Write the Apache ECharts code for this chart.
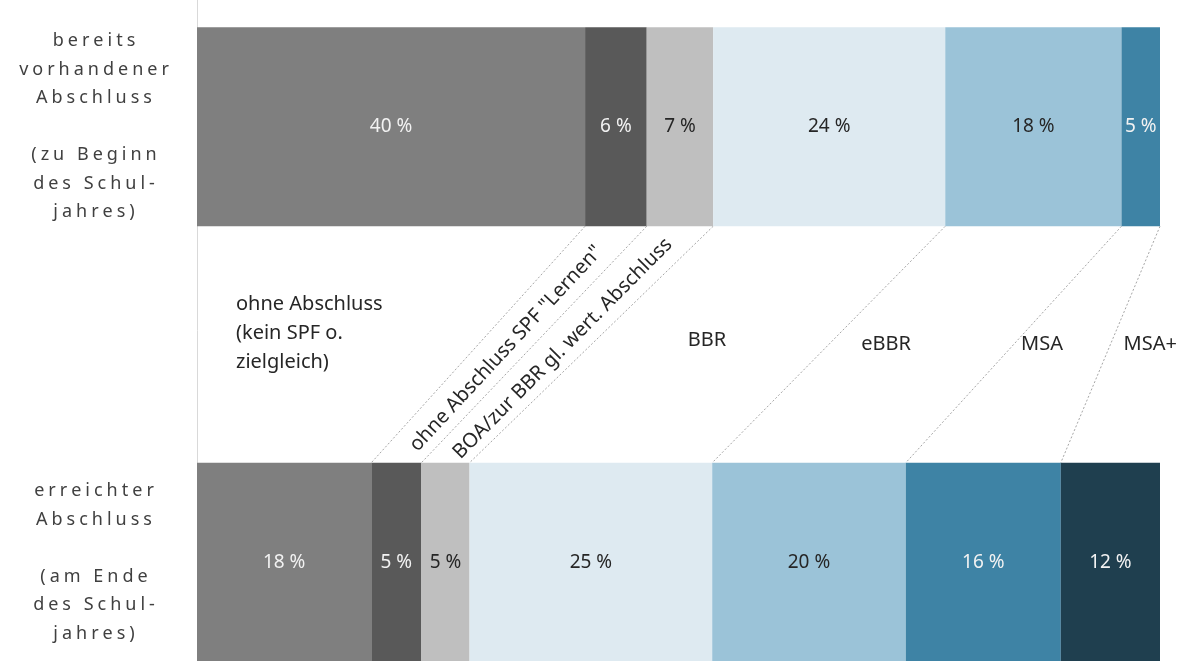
<!DOCTYPE html>
<html>
<head>
<meta charset="utf-8">
<title>Abschlüsse</title>
<script src="https://cdn.jsdelivr.net/npm/echarts@6/dist/echarts.min.js"></script>
<style>
  html, body { margin: 0; padding: 0; background: #fff; }
  #main { width: 1189px; height: 661px; }
</style>
</head>
<body>
<div id="main"></div>
<script>
// Kategorien der y-Achse (oben: Beginn, unten: Ende des Schuljahres)
var categories = [
  'bereits\nvorhandener\nAbschluss\n\n(zu Beginn\ndes Schul-\njahres)',
  'erreichter\nAbschluss\n\n(am Ende\ndes Schul-\njahres)'
];

// Abschlussarten (Reihenfolge der Segmente von links nach rechts)
var abschluesse = [
  'ohne Abschluss\n(kein SPF o.\nzielgleich)',
  'ohne Abschluss SPF "Lernen"',
  'BOA/zur BBR gl. wert. Abschluss',
  'BBR',
  'eBBR',
  'MSA',
  'MSA+'
];

// Anteile (Breite der Segmente)
var anteilBeginn = [40.3, 6.4, 6.9, 24.1, 18.3, 4.0, 0];
var anteilEnde = [18.1, 5.2, 5.0, 25.2, 20.1, 16.1, 10.3];

// Beschriftungen in den Balken
var labelBeginn = ['40 %', '6 %', '7 %', '24 %', '18 %', '5 %', ''];
var labelEnde = ['18 %', '5 %', '5 %', '25 %', '20 %', '16 %', '12 %'];

var farben = ['#7f7f7f', '#595959', '#bfbfbf', '#deeaf1', '#9bc3d8', '#3e83a5', '#1f3f4f'];
var textFarben = ['#f2f2f2', '#f2f2f2', '#262626', '#262626', '#262626', '#f2f2f2', '#f2f2f2'];

var schrift = '"Noto Sans", "DejaVu Sans", sans-serif';
var balkenBreite = 199;

var chart = echarts.init(document.getElementById('main'));

var series = abschluesse.map(function (name, i) {
  return {
    name: name,
    type: 'bar',
    stack: 'gesamt',
    barWidth: balkenBreite,
    itemStyle: { color: farben[i] },
    label: {
      show: true,
      position: 'inside',
      color: textFarben[i],
      fontSize: 19,
      fontFamily: schrift,
      formatter: function (p) {
        return p.dataIndex === 0 ? labelBeginn[i] : labelEnde[i];
      }
    },
    data: [anteilBeginn[i], anteilEnde[i]]
  };
});

// gesperrte Schrift für die Achsenbeschriftung (jedes Zeichen mit etwas Abstand)
function gesperrt(v) {
  return v.split('\n').map(function (zeile) {
    if (!zeile) return '{s| }';
    return zeile.split('').map(function (c) { return '{s|' + c + '}'; }).join('');
  }).join('\n');
}

chart.setOption({
  animation: false,
  backgroundColor: '#fff',
  grid: { left: 197, right: 29, top: -91, height: 871, outerBoundsMode: 'none' },
  xAxis: { type: 'value', min: 0, max: 100, show: false },
  yAxis: {
    type: 'category',
    inverse: true,
    data: categories,
    axisLine: { show: true, lineStyle: { color: '#d9d9d9', width: 1 } },
    axisTick: { show: false },
    axisLabel: {
      align: 'center',
      margin: 103,
      fontSize: 18,
      lineHeight: 28.5,
      color: '#404040',
      fontFamily: schrift,
      formatter: gesperrt,
      rich: {
        s: {
          fontSize: 18,
          lineHeight: 28.5,
          color: '#404040',
          fontFamily: schrift,
          padding: [0, 2]
        }
      }
    }
  },
  series: series
});

// Verbindungslinien zwischen den Segmentgrenzen + Beschriftungen dazwischen
var halb = balkenBreite / 2;
var elemente = [];
var mitten = [];
var sumB = 0, sumE = 0, gapY = 0;
for (var k = 0; k < abschluesse.length - 1; k++) {
  sumB += anteilBeginn[k];
  sumE += anteilEnde[k];
  var oben = chart.convertToPixel({ gridIndex: 0 }, [sumB, 0]);
  var unten = chart.convertToPixel({ gridIndex: 0 }, [sumE, 1]);
  var x1 = oben[0], y1 = oben[1] + halb;
  var x2 = unten[0], y2 = unten[1] - halb;
  gapY = (y1 + y2) / 2;
  elemente.push({
    type: 'line',
    silent: true,
    shape: { x1: x1, y1: y1, x2: x2, y2: y2 },
    style: { stroke: '#a6a6a6', lineWidth: 1, lineDash: [2, 2] }
  });
  mitten.push({ x: (x1 + x2) / 2, winkel: Math.atan2(y2 - y1, x1 - x2) });
}

function text(str, x, y, align, rot) {
  return {
    type: 'text',
    silent: true,
    x: x,
    y: y,
    rotation: rot || 0,
    style: {
      text: str,
      fill: '#262626',
      fontSize: 20,
      fontFamily: schrift,
      lineHeight: 29,
      align: align,
      verticalAlign: 'middle'
    }
  };
}

var links = chart.convertToPixel({ gridIndex: 0 }, [0, 0])[0];
var rechts = chart.convertToPixel({ gridIndex: 0 }, [100, 0])[0];

// ohne Abschluss (links, mehrzeilig)
elemente.push(text(abschluesse[0], links + 39, gapY - 11, 'left'));
// schräge Beschriftungen
elemente.push(text(abschluesse[1], (mitten[0].x + mitten[1].x) / 2, gapY + 4, 'center',
  (mitten[0].winkel + mitten[1].winkel) / 2));
elemente.push(text(abschluesse[2], (mitten[1].x + mitten[2].x) / 2, gapY + 4, 'center',
  (mitten[1].winkel + mitten[2].winkel) / 2));
// BBR, eBBR, MSA, MSA+
elemente.push(text(abschluesse[3], (mitten[2].x + mitten[3].x) / 2 - 3, gapY - 4, 'center'));
elemente.push(text(abschluesse[4], (mitten[3].x + mitten[4].x) / 2 - 35, gapY, 'center'));
elemente.push(text(abschluesse[5], (mitten[4].x + mitten[5].x) / 2 - 20, gapY, 'center'));
elemente.push(text(abschluesse[6], (mitten[5].x + rechts) / 2 + 15, gapY, 'center'));

chart.setOption({ graphic: { elements: elemente } });
</script>
</body>
</html>
